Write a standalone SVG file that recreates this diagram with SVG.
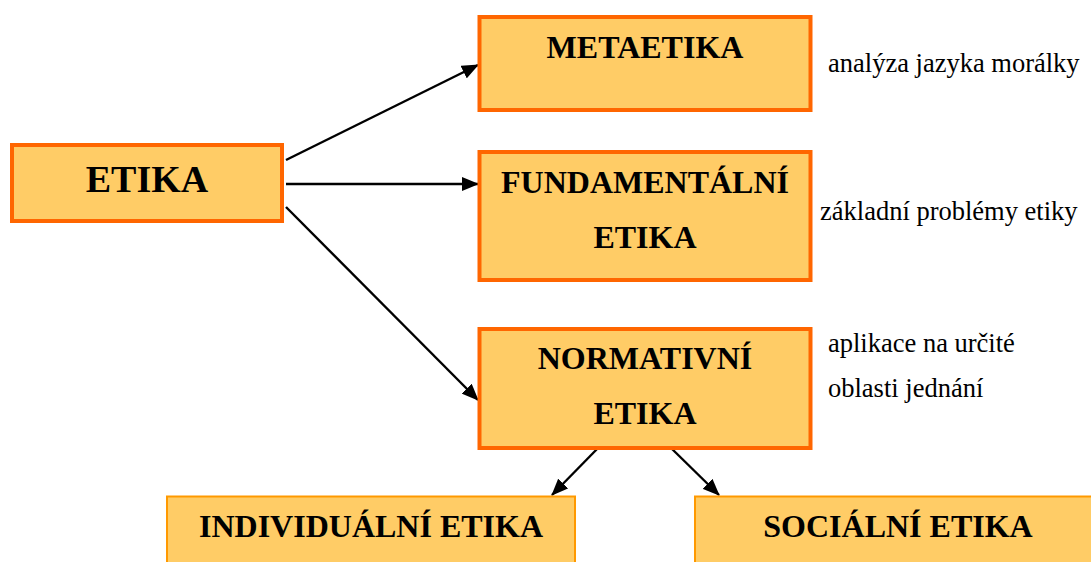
<svg xmlns="http://www.w3.org/2000/svg" width="1091" height="562" viewBox="0 0 1091 562">
<style>
.box{fill:#FFCC66;stroke:#FF6600;stroke-width:4}
.box2{fill:#FFCC66;stroke:#FF9900;stroke-width:2}
.h{font-family:"Liberation Serif","Times New Roman",serif;font-weight:bold;fill:#000;text-anchor:middle}
.d{font-family:"Liberation Serif","Times New Roman",serif;font-size:26.5px;fill:#000}
.c{stroke:#000;stroke-width:2.4;fill:none;marker-end:url(#ah)}
</style>
<defs>
<marker id="ah" markerUnits="userSpaceOnUse" markerWidth="17" markerHeight="14" refX="16" refY="7" orient="auto">
<path d="M0,0 L17,7 L0,14 z" fill="#000"/>
</marker>
</defs>
<rect width="1091" height="562" fill="#fff"/>
<g id="connectors">
<line class="c" x1="286" y1="160" x2="478" y2="65"/>
<line class="c" x1="286" y1="184" x2="478" y2="184"/>
<line class="c" x1="286" y1="207" x2="478" y2="400"/>
<line class="c" x1="599" y1="447" x2="552" y2="495"/>
<line class="c" x1="670" y1="447" x2="719" y2="495"/>
</g>
<g id="etika">
<rect class="box" x="12" y="145" width="270" height="76"/>
<text class="h" x="147" y="192" font-size="38">ETIKA</text>
</g>
<g id="metaetika">
<rect class="box" x="479.5" y="17" width="331" height="93"/>
<text class="h" x="645" y="58" font-size="32">METAETIKA</text>
</g>
<g id="fundamentalni">
<rect class="box" x="479.5" y="152" width="331" height="128"/>
<text class="h" x="645" y="193" font-size="32">FUNDAMENTÁLNÍ</text>
<text class="h" x="645" y="248" font-size="32">ETIKA</text>
</g>
<g id="normativni">
<rect class="box" x="479.5" y="329" width="331" height="119"/>
<text class="h" x="645" y="369" font-size="32">NORMATIVNÍ</text>
<text class="h" x="645" y="424" font-size="32">ETIKA</text>
</g>
<g id="individualni">
<rect class="box2" x="167" y="496.5" width="408" height="80"/>
<text class="h" x="371" y="537" font-size="32">INDIVIDUÁLNÍ ETIKA</text>
</g>
<g id="socialni">
<rect class="box2" x="695" y="496.5" width="406" height="80"/>
<text class="h" x="898" y="537" font-size="32">SOCIÁLNÍ ETIKA</text>
</g>
<g id="descriptions">
<text class="d" x="828" y="72">analýza jazyka morálky</text>
<text class="d" x="820" y="220">základní problémy etiky</text>
<text class="d" x="828" y="352">aplikace na určité</text>
<text class="d" x="828" y="397">oblasti jednání</text>
</g>
</svg>
